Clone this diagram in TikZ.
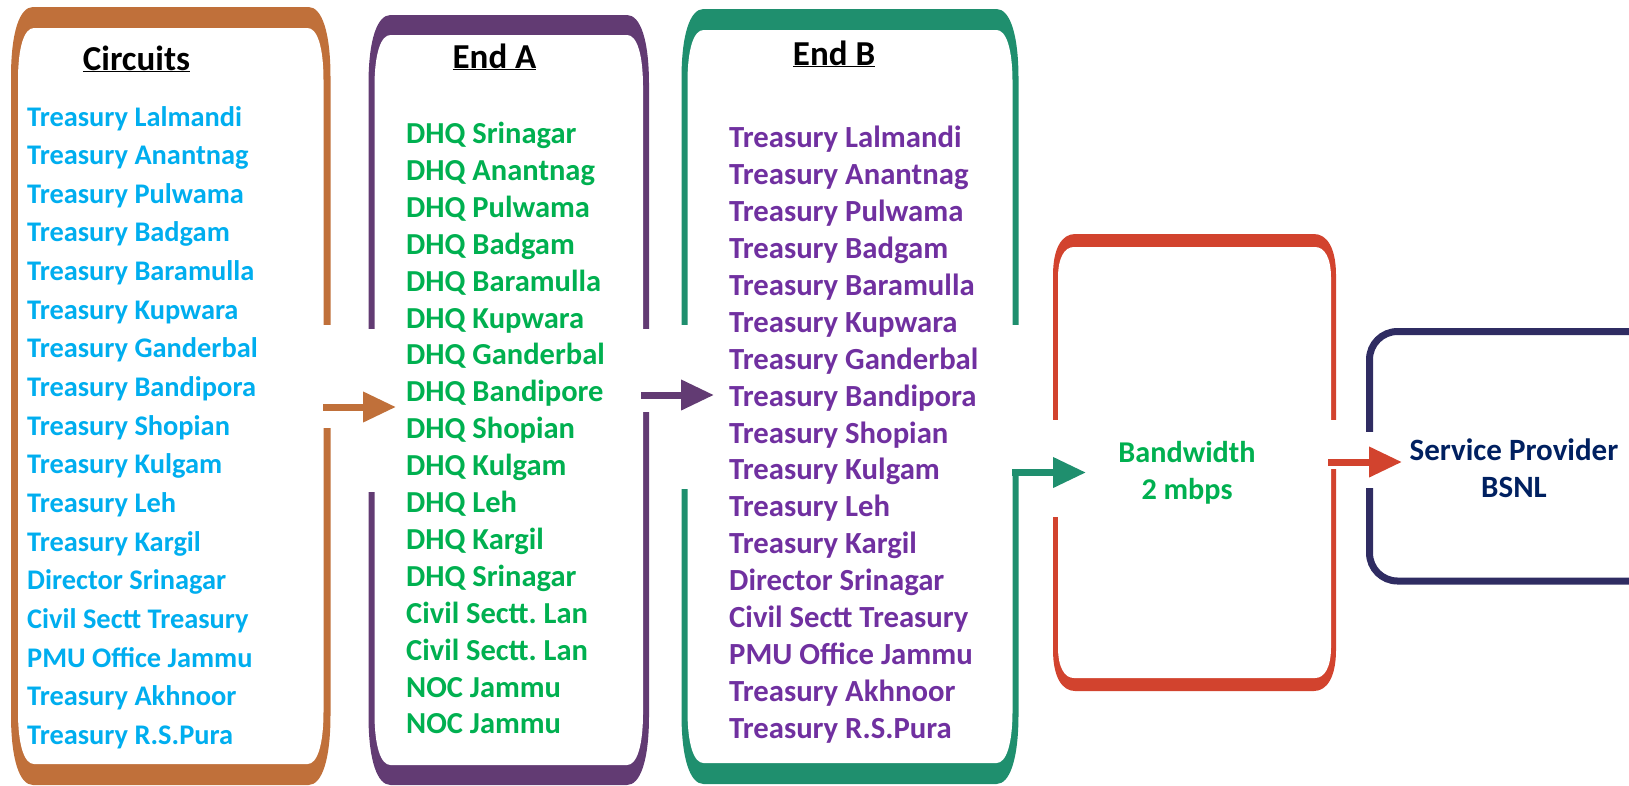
\documentclass[tikz,border=0pt]{standalone}
\usepackage{fontspec}
\setmainfont{Carlito}
\frenchspacing
\usetikzlibrary{arrows.meta}
\definecolor{framebrown}{HTML}{C0703A}
\definecolor{framepurple}{HTML}{623B73}
\definecolor{framegreen}{HTML}{1F8F6E}
\definecolor{framered}{HTML}{D2432E}
\definecolor{framenavy}{HTML}{2F2C62}
\definecolor{textblue}{HTML}{00AEEF}
\definecolor{textgreen}{HTML}{00B050}
\definecolor{textpurple}{HTML}{7030A0}
\definecolor{textnavy}{HTML}{002060}
\newcommand{\capshape}[6]{(#1,#2+#6) .. controls (#1,#2+0.35*#6) and (#1+0.4*#5,#2) .. (#1+#5,#2)
  -- (#3-#5,#2) .. controls (#3-0.4*#5,#2) and (#3,#2+0.35*#6) .. (#3,#2+#6)
  -- (#3,#4-#6) .. controls (#3,#4-0.35*#6) and (#3-0.4*#5,#4) .. (#3-#5,#4)
  -- (#1+#5,#4) .. controls (#1+0.4*#5,#4) and (#1,#4-0.35*#6) .. (#1,#4-#6) -- cycle}
\newcommand{\capframe}[7]{%
  \pgfmathsetmacro{\capv}{0.09*(#5-#3)}
  \fill[#1] \capshape{#2}{#3}{#4}{#5}{22}{\capv};
  \fill[white] \capshape{#2+#6}{#3+#7}{#4-#6}{#5-#7}{16}{0.75*\capv};
}

\begin{document}
\begin{tikzpicture}[x=1pt,y=-1pt,
        listitem/.style={anchor=base west,inner sep=0pt,font=\bfseries\fontsize{#1}{34}\selectfont},
        heading/.style={anchor=base,inner sep=0pt,font=\bfseries\fontsize{35}{42}\selectfont},
        boxtext/.style={align=center,inner sep=0pt,font=\bfseries\fontsize{#1}{37}\selectfont},
        link/.style={line width=7pt,-{Triangle[length=33pt,width=29pt]}}]
        \useasboundingbox (0,0) rectangle (1629,785);
        \capframe{framebrown}{11}{7}{330.5}{785}{7}{21}
        \capframe{framepurple}{368.5}{15}{649}{785}{6}{20}
        \capframe{framegreen}{681.5}{9}{1018.5}{784}{6}{21}
        \capframe{framered}{1053}{234}{1336}{691}{5}{13}
        \draw[framenavy,line width=7pt,rounded corners=28pt] (1369.5,331.5) rectangle (1690,581);
        \fill[white] (322,325) rectangle (335,428);
        \fill[white] (365,329) rectangle (378,492);
        \fill[white] (640,329) rectangle (652,412);
        \fill[white] (678,325) rectangle (691,489);
        \fill[white] (1010,325) rectangle (1022,469);
        \fill[white] (1050,420) rectangle (1062,517);
        \fill[white] (1330,420) rectangle (1341,469);
        \fill[white] (1362,432) rectangle (1376,488);
        \node[heading] (circhead) at (136.5,70) {\underline{Circuits}};
        \node[heading] (endahead) at (494.5,68) {\underline{End A}};
        \node[heading] (endbhead) at (834,65) {\underline{End B}};
        \foreach \t [count=\i] in {Treasury Lalmandi,Treasury Anantnag,Treasury Pulwama,Treasury Badgam,Treasury Baramulla,Treasury Kupwara,Treasury Ganderbal,Treasury Bandipora,Treasury Shopian,Treasury Kulgam,Treasury Leh,Treasury Kargil,Director Srinagar,Civil Sectt Treasury,PMU Office Jammu,Treasury Akhnoor,Treasury R.S.Pura}
          \node[listitem=28.4,textblue] (circ\i) at (27,{126+(\i-1)*38.66}) {\t};
        \foreach \t [count=\i] in {DHQ Srinagar,DHQ Anantnag,DHQ Pulwama,DHQ Badgam,DHQ Baramulla,DHQ Kupwara,DHQ Ganderbal,DHQ Bandipore,DHQ Shopian,DHQ Kulgam,DHQ Leh,DHQ Kargil,DHQ Srinagar,Civil Sectt. Lan,Civil Sectt. Lan,NOC Jammu,NOC Jammu}
          \node[listitem=30.5,textgreen] (enda\i) at (406,{143.5+(\i-1)*36.9}) {\t};
        \foreach \t [count=\i] in {Treasury Lalmandi,Treasury Anantnag,Treasury Pulwama,Treasury Badgam,Treasury Baramulla,Treasury Kupwara,Treasury Ganderbal,Treasury Bandipora,Treasury Shopian,Treasury Kulgam,Treasury Leh,Treasury Kargil,Director Srinagar,Civil Sectt Treasury,PMU Office Jammu,Treasury Akhnoor,Treasury R.S.Pura}
          \node[listitem=30.7,textpurple] (endb\i) at (729,{147.5+(\i-1)*36.94}) {\t};
        \node[boxtext=30.2,textgreen] (bandwidth) at (1187,473) {Bandwidth\\2 mbps};
        \node[boxtext=31,textnavy] (provider) at (1514,468) {Service Provider\\BSNL};
        \coordinate (circ-out) at (323,407);
        \coordinate (enda-in) at (396,407);
        \coordinate (enda-out) at (641,395);
        \coordinate (endb-in) at (714,395);
        \coordinate (endb-out) at (1012,472.5);
        \coordinate (band-in) at (1086,472.5);
        \coordinate (band-out) at (1328,462);
        \coordinate (prov-in) at (1402,462);
        \draw[link,framebrown] (circ-out) -- (enda-in);
        \draw[link,framepurple] (enda-out) -- (endb-in);
        \draw[link,framegreen] (endb-out) -- (band-in);
        \draw[link,framered] (band-out) -- (prov-in);
      \end{tikzpicture}
\end{document}
